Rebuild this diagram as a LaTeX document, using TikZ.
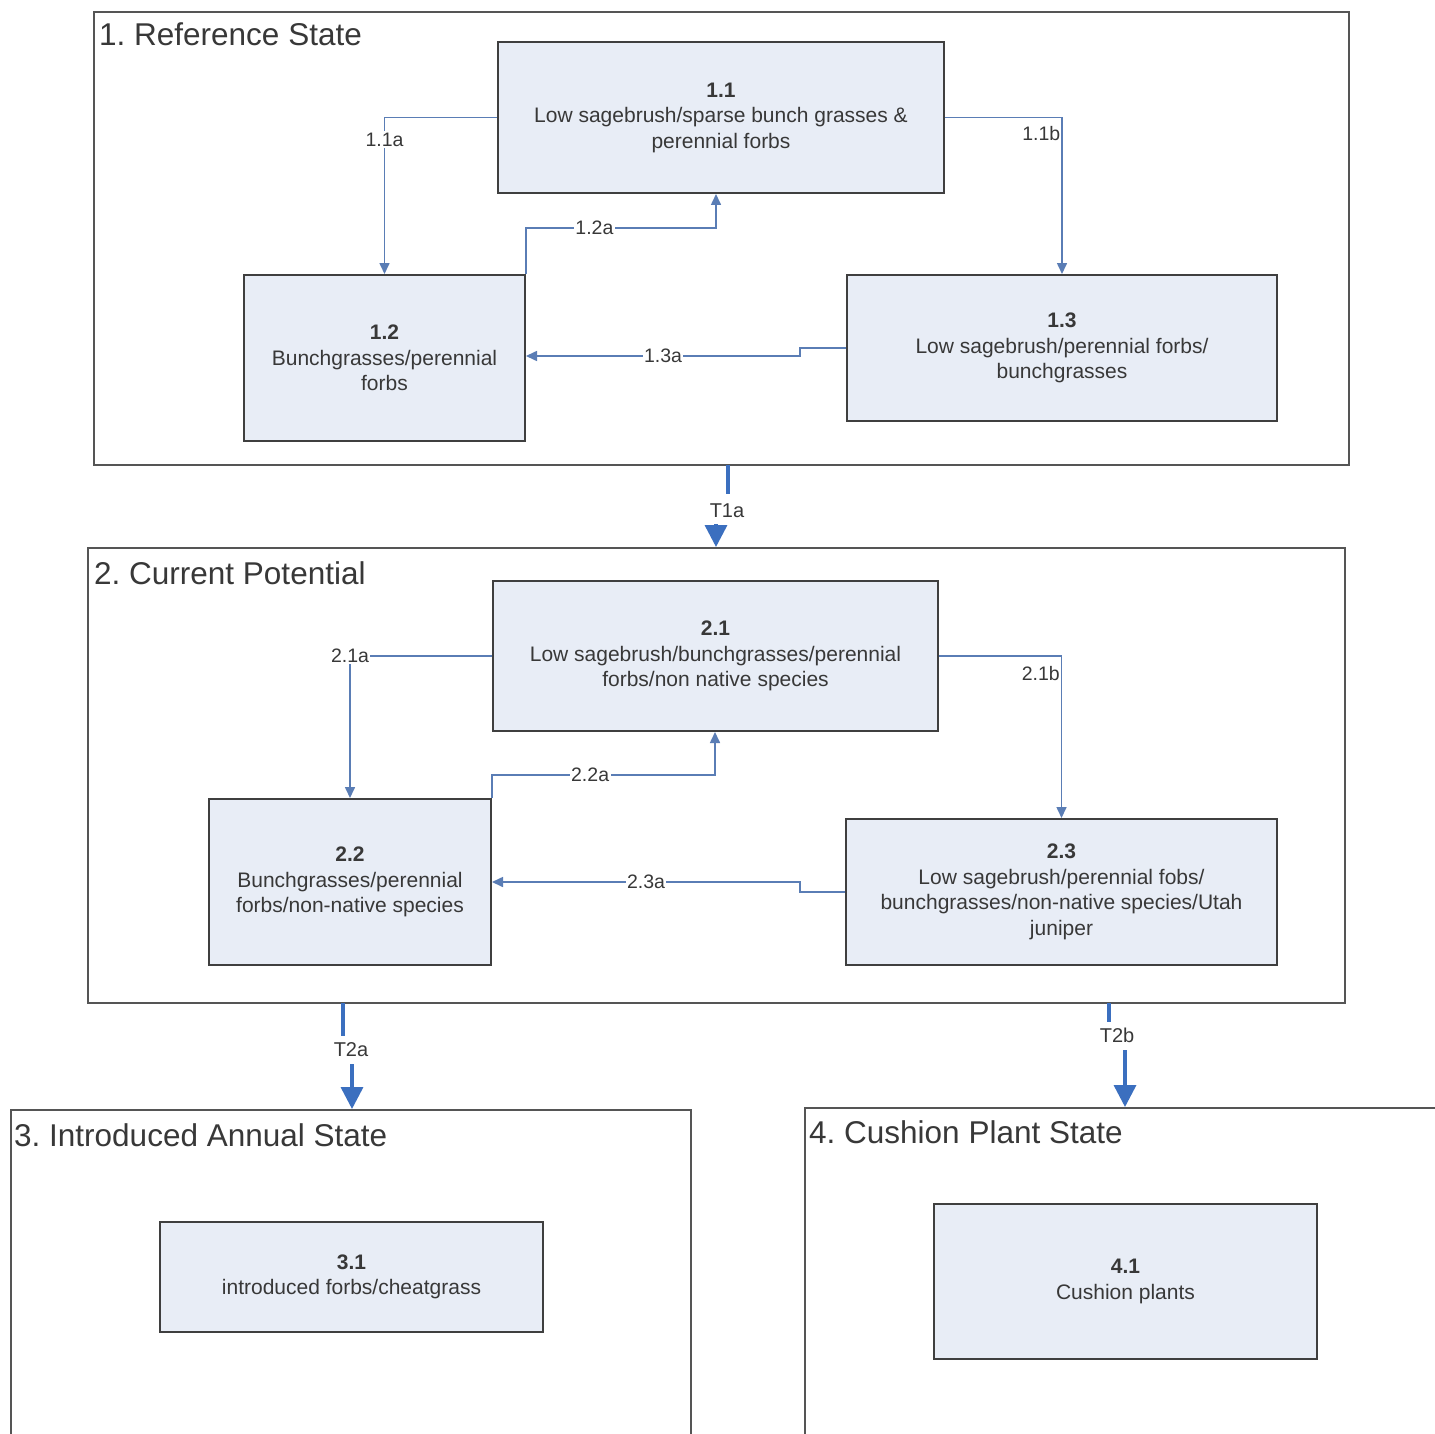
\documentclass[tikz,border=0pt]{standalone}
\usepackage{fontspec}
\setmainfont{Liberation Sans}
\usetikzlibrary{arrows.meta}
\definecolor{boxfill}{HTML}{E8EDF6}
\definecolor{boxline}{HTML}{3F3F3F}
\definecolor{stline}{HTML}{555555}
\definecolor{connc}{HTML}{5A7DB5}
\definecolor{transc}{HTML}{3B6FBF}
\definecolor{txt}{HTML}{383838}
\frenchspacing
\begin{document}
\frenchspacing
\begin{tikzpicture}[x=1pt,y=-1pt,
  statebox/.style={draw=stline,line width=2pt,fill=white,inner sep=0pt},
  cbox/.style={draw=boxline,line width=2pt,fill=boxfill,align=center,text=txt,
     font=\fontsize{21}{25.5}\selectfont,inner sep=0pt},
  ttl/.style={font=\fontsize{31.5}{36}\selectfont,text=txt,anchor=base west,inner sep=0pt},
  conn/.style={draw=connc,line width=1.6pt,-{Triangle[length=11pt,width=10pt]}},
  lbl/.style={fill=white,inner sep=1.5pt,text=txt,font=\fontsize{19.5}{22}\selectfont},
  lblr/.style={inner sep=1pt,text=txt,font=\fontsize{19.5}{22}\selectfont,anchor=east},
  trans/.style={draw=transc,line width=3.5pt},
  transarr/.style={draw=transc,line width=3.5pt,-{Triangle[length=22pt,width=22pt]}},
  tlbl/.style={inner sep=1pt,text=txt,font=\fontsize{20}{22}\selectfont}
]
\useasboundingbox (0,0) rectangle (1435,1434);
\clip (0,0) rectangle (1435,1434);
\fill[white] (0,0) rectangle (1435,1434);

% state boxes
\node[statebox,minimum width=1255pt,minimum height=453pt] (s1) at (721.5,238.5) {};
\node[statebox,minimum width=1257pt,minimum height=455pt] (s2) at (716.5,775.5) {};
\node[statebox,minimum width=680pt,minimum height=390pt] (s3) at (351,1305) {};
\node[statebox,minimum width=695pt,minimum height=392pt] (s4) at (1152.5,1304) {};

\node[ttl] (t1) at (99,46) {1. Reference State};
\node[ttl] (t2) at (94,584) {2. Current Potential};
\node[ttl] (t3) at (14,1146) {3. Introduced Annual State};
\node[ttl] (t4) at (809,1143) {4. Cushion Plant State};

% community boxes
\node[cbox,minimum width=446pt,minimum height=151pt] (b11) at (721,117.5)
  {\textbf{1.1}\\Low sagebrush/sparse bunch grasses \&\\perennial forbs};
\node[cbox,minimum width=281pt,minimum height=166pt] (b12) at (384.5,358)
  {\textbf{1.2}\\Bunchgrasses/perennial\\forbs};
\node[cbox,minimum width=430pt,minimum height=146pt] (b13) at (1062,348)
  {\textbf{1.3}\\Low sagebrush/perennial forbs/\\bunchgrasses};
\node[cbox,minimum width=445pt,minimum height=150pt] (b21) at (715.5,656)
  {\textbf{2.1}\\Low sagebrush/bunchgrasses/perennial\\forbs/non native species};
\node[cbox,minimum width=282pt,minimum height=166pt] (b22) at (350,882)
  {\textbf{2.2}\\Bunchgrasses/perennial\\forbs/non-native species};
\node[cbox,minimum width=431pt,minimum height=146pt] (b23) at (1061.5,892)
  {\textbf{2.3}\\Low sagebrush/perennial fobs/\\bunchgrasses/non-native species/Utah\\juniper};
\node[cbox,minimum width=383pt,minimum height=110pt] (b31) at (351.5,1277)
  {\textbf{3.1}\\introduced forbs/cheatgrass};
\node[cbox,minimum width=383pt,minimum height=155pt] (b41) at (1125.5,1281.5)
  {\textbf{4.1}\\Cushion plants};

% state 1 connectors
\draw[conn] (b11.west) -| node[lbl,pos=0.57]{1.1a} (b12.north);
\draw[conn] (b11.east) -| node[lblr,pos=0.55]{1.1b} (b13.north);
\coordinate (k12a) at (716,228);
\draw[conn] (b12.north east) |- node[lbl,pos=0.68]{1.2a} (k12a) -- (k12a |- b11.south);
\coordinate (k13a1) at (800,348);
\coordinate (k13a2) at (800,356);
\draw[conn] (b13.west) -- (k13a1) -- (k13a2) -- node[lbl,midway]{1.3a} (k13a2 -| b12.east);

% state 2 connectors
\draw[conn] (b21.west) -| node[lbl,pos=0.5]{2.1a} (b22.north);
\draw[conn] (b21.east) -| node[lblr,pos=0.555]{2.1b} (b23.north);
\coordinate (k22a) at (715,775);
\draw[conn] (b22.north east) |- node[lbl,pos=0.72]{2.2a} (k22a) -- (k22a |- b21.south);
\coordinate (k23a1) at (800,892);
\coordinate (k23a2) at (800,882);
\draw[conn] (b23.west) -- (k23a1) -- (k23a2) -- node[lbl,midway]{2.3a} (k23a2 -| b22.east);

% transitions
\coordinate (t1s) at (728,465);
\coordinate (t1e) at (728,494);
\coordinate (t1h) at (716,524);
\node[tlbl] (lt1) at (727,511) {T1a};
\draw[trans] (t1s) -- (t1e);
\draw[transarr] (t1h) -- (t1h |- s2.north);

\coordinate (t2s) at (343,1003);
\coordinate (t2e) at (343,1036);
\coordinate (t2h) at (352,1064);
\node[tlbl] (lt2) at (351,1050) {T2a};
\draw[trans] (t2s) -- (t2e);
\draw[transarr] (t2h) -- (t2h |- s3.north);

\coordinate (t3s) at (1109,1003);
\coordinate (t3e) at (1109,1022);
\coordinate (t3h) at (1125,1050);
\node[tlbl] (lt3) at (1117,1035) {T2b};
\draw[trans] (t3s) -- (t3e);
\draw[transarr] (t3h) -- (t3h |- s4.north);
\end{tikzpicture}
\end{document}
